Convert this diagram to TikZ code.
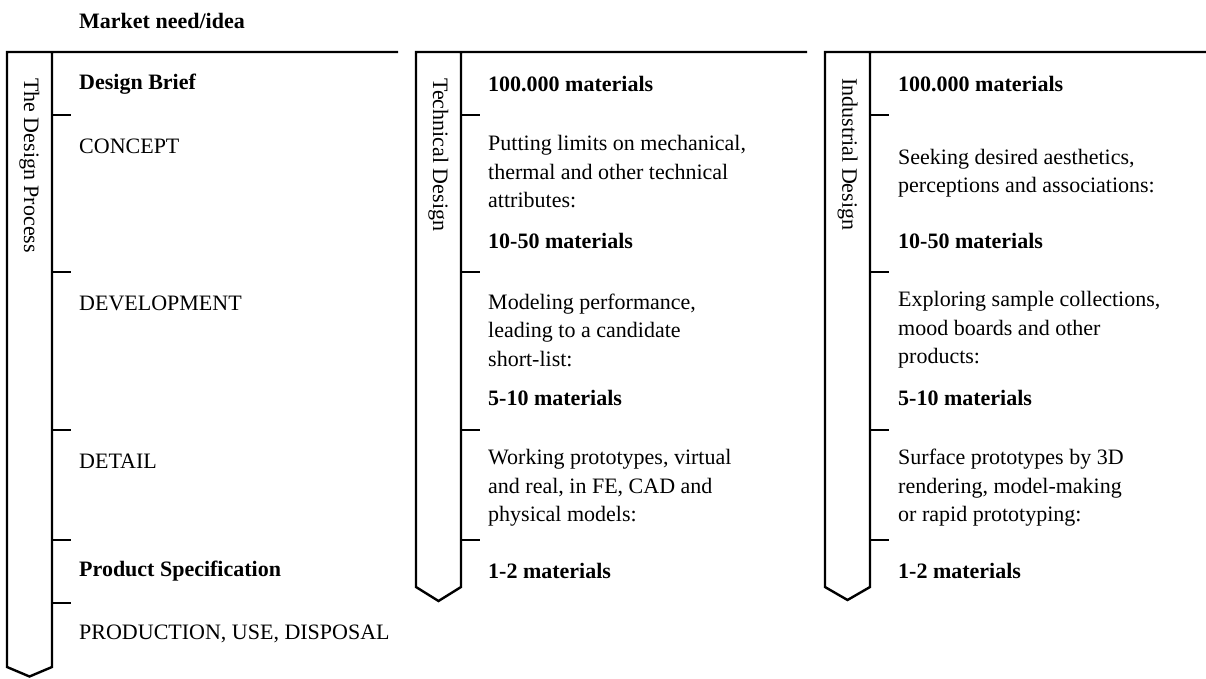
\documentclass[tikz,border=0pt]{standalone}
\usepackage{fontspec}
\setmainfont{Liberation Serif}
\begin{document}
\begin{tikzpicture}[x=1pt,y=-1pt,
  frame/.style={line width=2.4pt, line join=miter},
  tickmark/.style={line width=2.4pt},
  lbl/.style={anchor=west, inner sep=0pt, align=left, font=\fontsize{22}{28.5}\selectfont},
  hd/.style={lbl, font=\fontsize{22}{28.5}\selectfont\bfseries},
  side/.style={anchor=west, rotate=-90, inner sep=0pt, font=\fontsize{22}{26}\selectfont}]
\useasboundingbox (0,0) rectangle (1206,679);

% ---- column outlines: open bar with an arrow-shaped bottom ----
\coordinate (pTR) at (398,52);
\coordinate (tTR) at (807,52);
\coordinate (iTR) at (1206,52);
\draw[frame] (pTR) -- (7,52) -- (7,667) -- (29.5,676.5) -- (52,667) -- (52,52);
\draw[frame] (tTR) -- (416,52) -- (416,587) -- (438.5,601) -- (461,587) -- (461,52);
\draw[frame] (iTR) -- (825,52) -- (825,587) -- (847.5,600) -- (870,587) -- (870,52);

% ---- stage separators ----
\foreach \y in {115,272,430,540,603} \draw[tickmark] (52,\y) -- (71,\y);
\foreach \y in {115,272,430,540} \draw[tickmark] (461,\y) -- (480,\y);
\foreach \y in {115,272,430,540} \draw[tickmark] (870,\y) -- (889,\y);

% ---- vertical column titles ----
\node[side] (pTitle) at (29.5,78) {The Design Process};
\node[side] (tTitle) at (438.5,78) {Technical Design};
\node[side] (iTitle) at (847.5,78) {Industrial Design};

% ---- design process stages ----
\node[hd]  (need)   at (79,21)  {Market need/idea};
\node[hd]  (brief)  at (79,84)  {Design Brief};
\node[lbl] (concept) at (79,146) {CONCEPT};
\node[lbl] (devel)  at (79,303) {DEVELOPMENT};
\node[lbl] (detail) at (79,461) {DETAIL};
\node[hd]  (spec)   at (79,571) {Product Specification};
\node[lbl] (prod)   at (79,634) {PRODUCTION, USE, DISPOSAL};

% ---- technical design ----
\node[hd]  (t1) at (488,84)  {100.000 materials};
\node[lbl] (t2) at (488,172) {Putting limits on mechanical,\\thermal and other technical\\attributes:};
\node[hd]  (t3) at (488,241) {10-50 materials};
\node[lbl] (t4) at (488,330) {Modeling performance,\\leading to a candidate\\short-list:};
\node[hd]  (t5) at (488,398) {5-10 materials};
\node[lbl] (t6) at (488,488) {Working prototypes, virtual\\and real, in FE, CAD and\\physical models:};
\node[hd]  (t7) at (488,571) {1-2 materials};

% ---- industrial design ----
\node[hd]  (i1) at (898,84)  {100.000 materials};
\node[lbl] (i2) at (898,173) {Seeking desired aesthetics,\\perceptions and associations:};
\node[hd]  (i3) at (898,241) {10-50 materials};
\node[lbl] (i4) at (898,330) {Exploring sample collections,\\mood boards and other\\products:};
\node[hd]  (i5) at (898,398) {5-10 materials};
\node[lbl] (i6) at (898,488) {Surface prototypes by 3D\\rendering, model-making\\or rapid prototyping:};
\node[hd]  (i7) at (898,571) {1-2 materials};
\end{tikzpicture}
\end{document}
